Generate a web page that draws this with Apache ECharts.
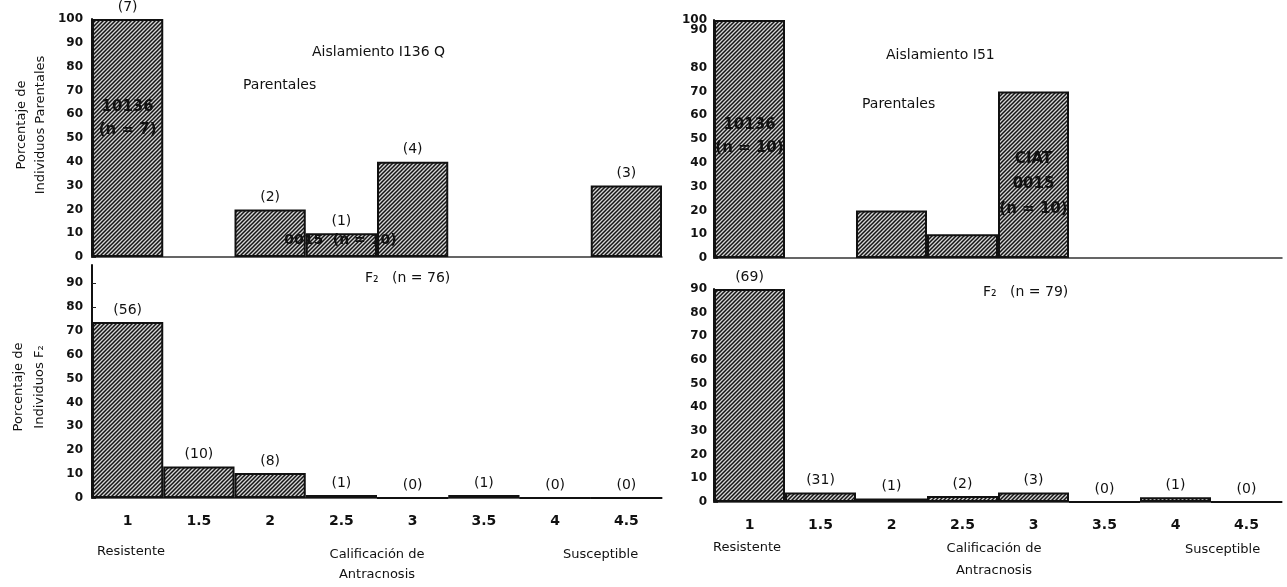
<!DOCTYPE html>
<html>
<head>
<meta charset="utf-8">
<script src="https://cdn.jsdelivr.net/npm/echarts@6/dist/echarts.min.js"></script>
<style>
  html, body { margin: 0; padding: 0; background: #fff; }
  #chart { width: 1287px; height: 587px; }
</style>
</head>
<body>
<div id="chart"></div>
<script>
// Anthracnose rating classes (1 = resistant ... 4.5 = susceptible)
const ratings = ['1', '1.5', '2', '2.5', '3', '3.5', '4', '4.5'];

// Isolate I136 Q: parents (% of individuals) and F2 (% of individuals)
const parentsI136 = [100, null, 20, 10, 40, null, null, 30];
const parentsI136Counts = ['(7)', '', '(2)', '(1)', '(4)', '', '', '(3)'];
const f2I136 = [73.7, 13.2, 10.5, 1.3, 0, 1.3, 0, 0];
const f2I136Counts = ['(56)', '(10)', '(8)', '(1)', '(0)', '(1)', '(0)', '(0)'];

// Isolate I51: parents and F2
const parentsI51 = [100, null, 20, 10, 70, null, null, null];
const f2I51 = [90, 4, 1.5, 2.5, 4, 0, 2, 0];
const f2I51Counts = ['(69)', '(31)', '(1)', '(2)', '(3)', '(0)', '(1)', '(0)'];

const yTicksParents = [0, 100, 10];   // min, max, interval
const yTicksF2Left = [0, 97.5, 10];
const yTicksF2Right = [0, 90, 10];

const FONT = "'DejaVu Sans', 'Liberation Sans', sans-serif";

// fine diagonal hatch used as bar fill
function hatch() {
  const s = 4;
  const c = document.createElement('canvas');
  c.width = s; c.height = s;
  const g = c.getContext('2d');
  g.fillStyle = '#d4d4d4';
  g.fillRect(0, 0, s, s);
  g.strokeStyle = '#141414';
  g.lineWidth = 1.5;
  g.beginPath();
  g.moveTo(-1, s + 1); g.lineTo(s + 1, -1);
  g.moveTo(-1, 1); g.lineTo(1, -1);
  g.moveTo(s - 1, s + 1); g.lineTo(s + 1, s - 1);
  g.stroke();
  return c;
}
const hatchFill = { image: hatch(), repeat: 'repeat' };

const chart = echarts.init(document.getElementById('chart'));

const grids = [
  { left: 92, top: 19, width: 570, height: 238 },
  { left: 92, top: 265, width: 570, height: 233 },
  { left: 714, top: 20, width: 568, height: 238 },
  { left: 714, top: 289, width: 568, height: 213 }
].map(g => Object.assign({ outerBoundsMode: 'none', containLabel: false }, g));

function xAxis(i, showLabels) {
  return {
    type: 'category', gridIndex: i, data: ratings,
    axisLine: { lineStyle: { color: '#333', width: 1.5 } },
    axisTick: { show: false },
    axisLabel: {
      show: showLabels, margin: 16, color: '#111',
      fontFamily: FONT, fontWeight: 'bold', fontSize: 14
    }
  };
}

const yLabelBase = {
  color: '#111', fontFamily: FONT, fontWeight: 'bold', fontSize: 12, margin: 9,
  hideOverlap: false, showMaxLabel: true
};

function yAxis(i, ticks, labelExtra) {
  return {
    type: 'value', gridIndex: i, min: ticks[0], max: ticks[1], interval: ticks[2],
    splitLine: { show: false },
    axisLine: { show: true, lineStyle: { color: '#111', width: 2 } },
    axisTick: { show: true, inside: true, length: 4, lineStyle: { color: '#222' } },
    axisLabel: Object.assign({}, yLabelBase,
      { showMaxLabel: ticks[1] % ticks[2] === 0 }, labelExtra || {})
  };
}

function barSeries(i, values, counts) {
  return {
    type: 'bar', xAxisIndex: i, yAxisIndex: i,
    data: values,
    barCategoryGap: '0%',
    itemStyle: { color: hatchFill, borderColor: '#111', borderWidth: 2 },
    label: {
      show: !!counts, position: 'top', distance: 5,
      color: '#111', fontFamily: FONT, fontSize: 14,
      formatter: p => (counts ? counts[p.dataIndex] : '')
    },
    animation: false
  };
}

const option = {
  backgroundColor: '#fff',
  animation: false,
  grid: grids,
  xAxis: [xAxis(0, false), xAxis(1, true), xAxis(2, false), xAxis(3, true)],
  yAxis: [
    yAxis(0, yTicksParents),
    yAxis(1, yTicksF2Left),
    // the "90" of this axis is lettered higher up, drawn separately below
    yAxis(2, yTicksParents, { margin: 7, formatter: v => (v === 90 ? '' : String(v)) }),
    yAxis(3, yTicksF2Right, { margin: 7 })
  ],
  series: [
    barSeries(0, parentsI136, parentsI136Counts),
    barSeries(1, f2I136, f2I136Counts),
    barSeries(2, parentsI51, null),
    barSeries(3, f2I51, f2I51Counts)
  ]
};
chart.setOption(option);

// text placed on the chart (titles, in-bar parent names, axis captions)
function txt(text, x, y, o) {
  o = o || {};
  return {
    type: 'text', x: x, y: y, rotation: o.rotation || 0, z: 50,
    style: {
      text: text, fill: '#111', align: o.align || 'left', verticalAlign: 'middle',
      font: (o.weight || 'normal') + ' ' + (o.size || 14) + 'px ' + FONT,
      lineHeight: o.lineHeight || 20
    }
  };
}
function at(gridIndex, cat, val) {
  return chart.convertToPixel({ gridIndex: gridIndex }, [cat, val]);
}

const pL1 = at(0, '1', 58);
const pL2 = at(0, '2.5', 7);
const pR1 = at(2, '1', 51);
const pR3 = at(2, '3', 31);
const p90 = at(2, '1', 96);

chart.setOption({
  graphic: [
    // left panels
    txt('Aislamiento I136 Q', 312, 52),
    txt('Parentales', 243, 85),
    txt('10136\n(n = 7)', pL1[0], pL1[1], { align: 'center', weight: 'bold', size: 15, lineHeight: 23 }),
    txt('0015  (n = 10)', pL2[0] - 1, pL2[1], { align: 'center', weight: 'bold', size: 14 }),
    txt('F₂   (n = 76)', 365, 278),
    txt('Porcentaje de\nIndividuos Parentales', 31, 125, { rotation: Math.PI / 2, align: 'center', size: 13, lineHeight: 19 }),
    txt('Porcentaje de\nIndividuos F₂', 29, 387, { rotation: Math.PI / 2, align: 'center', size: 13, lineHeight: 21 }),
    txt('Resistente', 97, 552, { size: 13 }),
    txt('Calificación de\nAntracnosis', 377, 565, { align: 'center', size: 13, lineHeight: 20 }),
    txt('Susceptible', 563, 555, { size: 13 }),
    // right panels
    txt('90', 714 - 7, p90[1], { align: 'right', weight: 'bold', size: 12 }),
    txt('Aislamiento I51', 886, 55),
    txt('Parentales', 862, 104),
    txt('10136\n(n = 10)', pR1[0], pR1[1], { align: 'center', weight: 'bold', size: 15, lineHeight: 23 }),
    txt('CIAT\n0015\n(n = 10)', pR3[0], pR3[1], { align: 'center', weight: 'bold', size: 15, lineHeight: 25 }),
    txt('F₂   (n = 79)', 983, 292),
    txt('Resistente', 713, 548, { size: 13 }),
    txt('Calificación de\nAntracnosis', 994, 560, { align: 'center', size: 13, lineHeight: 22 }),
    txt('Susceptible', 1185, 550, { size: 13 })
  ]
});
</script>
</body>
</html>
